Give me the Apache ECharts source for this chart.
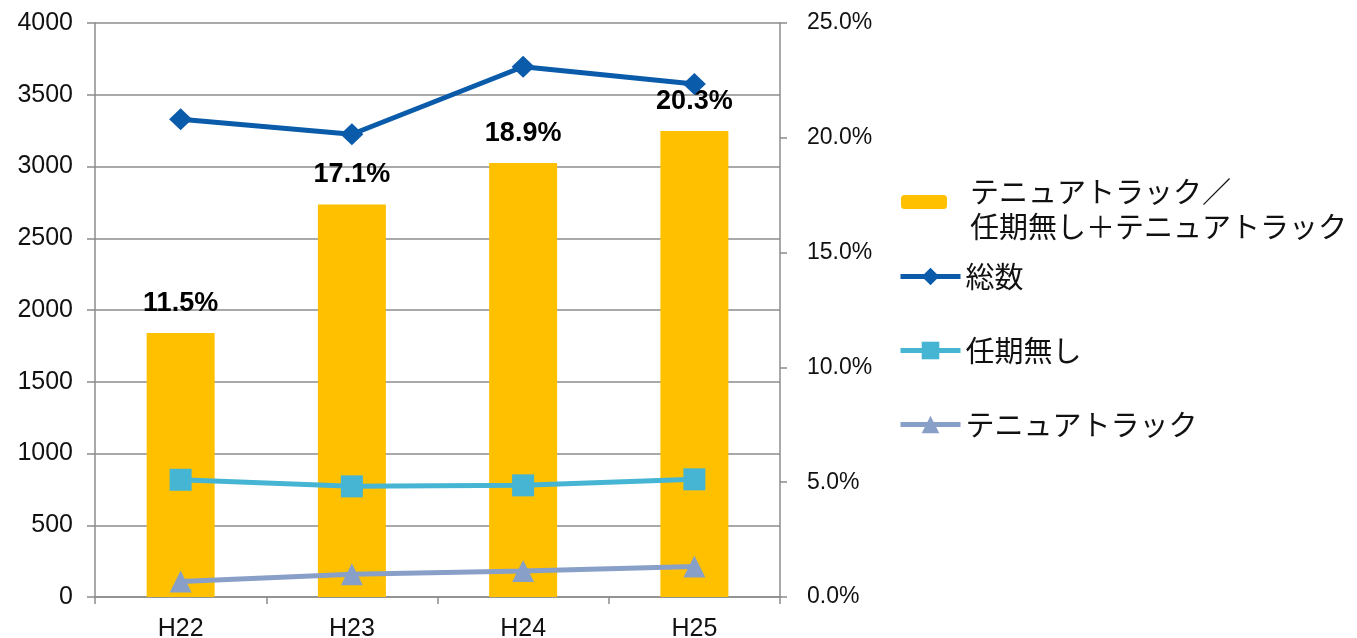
<!DOCTYPE html>
<html>
<head>
<meta charset="utf-8">
<script src="https://cdn.jsdelivr.net/npm/echarts@6/dist/echarts.min.js"></script>
<style>
html,body{margin:0;padding:0;background:#fff;}
#chart{width:1357px;height:638px;}
</style>
</head>
<body>
<div id="chart"></div>
<script>
const categories = ['H22', 'H23', 'H24', 'H25'];
const ratioName = 'テニュアトラック／任期無し＋テニュアトラック';
const ratio = [11.5, 17.1, 18.9, 20.3];
const total = [3330, 3225, 3695, 3575];
const permanent = [817, 771, 778, 820];
const tenure = [108, 158, 181, 212];
const leftTicks = { min: 0, max: 4000, interval: 500 };
const rightTicks = { min: 0, max: 25, interval: 5 };

const gray = '#8c8c8c';
const jp = '"Noto Sans CJK JP", "Noto Sans", sans-serif';
const latin = '"Liberation Sans", Arial, sans-serif';

const chart = echarts.init(document.getElementById('chart'));

function lineLegend(name, top) {
  return {
    data: [name], orient: 'vertical', left: 898, top: top, padding: 0,
    itemWidth: 60, itemHeight: 22,
    lineStyle: { width: 5 },
    textStyle: { fontFamily: jp, fontSize: 29, color: '#111', lineHeight: 26 }
  };
}

chart.setOption({
  animation: false,
  backgroundColor: '#fff',
  grid: { left: 95, right: 577, top: 23, bottom: 41, containLabel: false, outerBoundsMode: 'none' },
  legend: [
    {
      data: [ratioName], orient: 'vertical', left: 901, top: 162, padding: 0,
      itemWidth: 46, itemHeight: 14,
      formatter: () => '{s| }\n{a|テニュアトラック／}\n{a|任期無し＋テニュアトラック}',
      textStyle: {
        fontFamily: jp, fontSize: 29, color: '#111', padding: [0, 0, 0, 18],
        rich: {
          s: { fontSize: 10, lineHeight: 14 },
          a: { fontFamily: jp, fontSize: 29, color: '#111', lineHeight: 35 }
        }
      }
    },
    lineLegend('総数', 262),
    lineLegend('任期無し', 336),
    lineLegend('テニュアトラック', 410)
  ],
  xAxis: {
    type: 'category', data: categories, boundaryGap: true,
    axisLine: { lineStyle: { color: gray, width: 1.5 } },
    axisTick: { show: true, length: 7, lineStyle: { color: gray, width: 1.5 } },
    axisLabel: { color: '#111', fontFamily: latin, fontSize: 25, margin: 20 }
  },
  yAxis: [
    {
      type: 'value', min: leftTicks.min, max: leftTicks.max, interval: leftTicks.interval,
      axisLine: { show: true, lineStyle: { color: gray, width: 1.5 } },
      axisTick: { show: true, length: 8, lineStyle: { color: gray, width: 1.5 } },
      splitLine: { show: true, lineStyle: { color: gray, width: 1.5 } },
      axisLabel: { color: '#111', fontFamily: latin, fontSize: 25, margin: 22, formatter: v => String(v) }
    },
    {
      type: 'value', min: rightTicks.min, max: rightTicks.max, interval: rightTicks.interval,
      position: 'right',
      axisLine: { show: true, lineStyle: { color: gray, width: 1.5 } },
      axisTick: { show: true, length: 7, lineStyle: { color: gray, width: 1.5 } },
      splitLine: { show: false },
      axisLabel: {
        color: '#111', fontFamily: latin, fontSize: 23, margin: 27,
        formatter: v => v.toFixed(1) + '%'
      }
    }
  ],
  series: [
    {
      name: ratioName, type: 'bar', yAxisIndex: 1, data: ratio, barWidth: 68,
      itemStyle: { color: '#FFC000' }, z: 1,
      label: {
        show: true, position: 'top', distance: 16,
        formatter: p => p.value.toFixed(1) + '%',
        color: '#000', fontWeight: 'bold', fontSize: 27,
        fontFamily: latin
      }
    },
    {
      name: '総数', type: 'line', yAxisIndex: 0, data: total,
      symbol: 'diamond', symbolSize: [23, 22],
      lineStyle: { color: '#0A5BAA', width: 5 }, itemStyle: { color: '#0A5BAA' }, z: 5
    },
    {
      name: '任期無し', type: 'line', yAxisIndex: 0, data: permanent,
      symbol: 'rect', symbolSize: 22,
      lineStyle: { color: '#45B5D3', width: 5 }, itemStyle: { color: '#45B5D3' }, z: 5
    },
    {
      name: 'テニュアトラック', type: 'line', yAxisIndex: 0, data: tenure,
      symbol: 'triangle', symbolSize: 22,
      lineStyle: { color: '#88A0C8', width: 5 }, itemStyle: { color: '#88A0C8' }, z: 5
    }
  ]
});
</script>
</body>
</html>
